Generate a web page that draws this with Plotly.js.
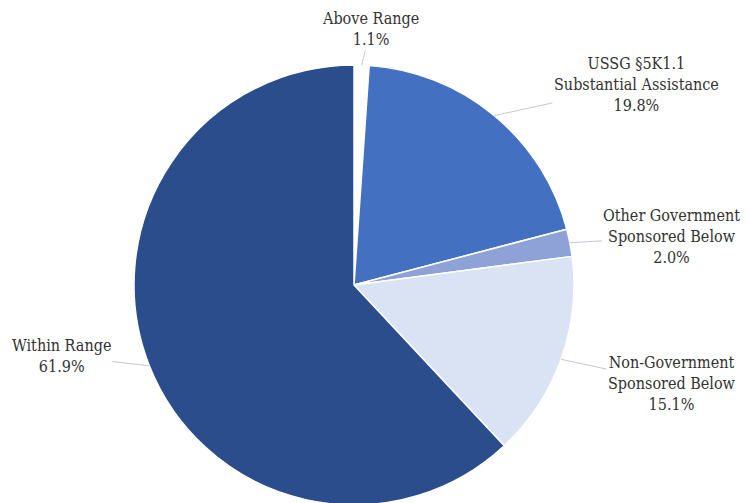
<!DOCTYPE html>
<html>
<head>
<meta charset="utf-8">
<script src="https://cdn.plot.ly/plotly-3.0.1.min.js"></script>
<style>html,body{margin:0;padding:0;overflow:hidden;background:#fff}#chart{width:748px;height:505px}</style>
</head>
<body>
<div id="chart"></div>
<script>
const categories = ["Above Range", "USSG §5K1.1<br>Substantial Assistance", "Other Government<br>Sponsored Below", "Non-Government<br>Sponsored Below", "Within Range"];
const shares = [1.1, 19.8, 2.0, 15.1, 61.9];
const percentLabels = ["1.1%", "19.8%", "2.0%", "15.1%", "61.9%"];
const sliceColors = ["#ffffff", "#4470c2", "#8fa2d8", "#dae3f3", "#2c4d8c"];
const labelOffsets = [[9, -36], [142, -31], [102, -6], [111, 24], [-88, -10]];

const total = shares.reduce((a, b) => a + b, 0);
let cum = 0;
const annotations = shares.map((v, i) => {
  const mid = (cum + v / 2) / total * 2 * Math.PI;
  cum += v;
  return {
    xref: "paper", yref: "paper",
    x: 0.5 + 0.5 * Math.sin(mid),
    y: 0.5 + 0.5 * Math.cos(mid),
    ax: labelOffsets[i][0], ay: labelOffsets[i][1],
    text: categories[i] + "<br>" + percentLabels[i],
    showarrow: true, arrowhead: 0, arrowwidth: 1, arrowcolor: "#c3c8d4",
    standoff: 0, startstandoff: 0,
    align: "center",
    font: {family: "DejaVu Serif Condensed, DejaVu Serif", size: 16, color: "#333333"}
  };
});

const trace = {
  type: "pie",
  labels: categories,
  values: shares,
  sort: false,
  direction: "clockwise",
  rotation: 0,
  textinfo: "none",
  hoverinfo: "label+percent",
  marker: {colors: sliceColors, line: {color: "#ffffff", width: 1.5}},
  domain: {x: [0, 1], y: [0, 1]}
};

const layout = {
  width: 748, height: 505,
  margin: {l: 134, r: 174, t: 65, b: 0},
  showlegend: false,
  paper_bgcolor: "#ffffff",
  annotations: annotations
};

Plotly.newPlot("chart", [trace], layout, {displayModeBar: false, staticPlot: true});
</script>
</body>
</html>
